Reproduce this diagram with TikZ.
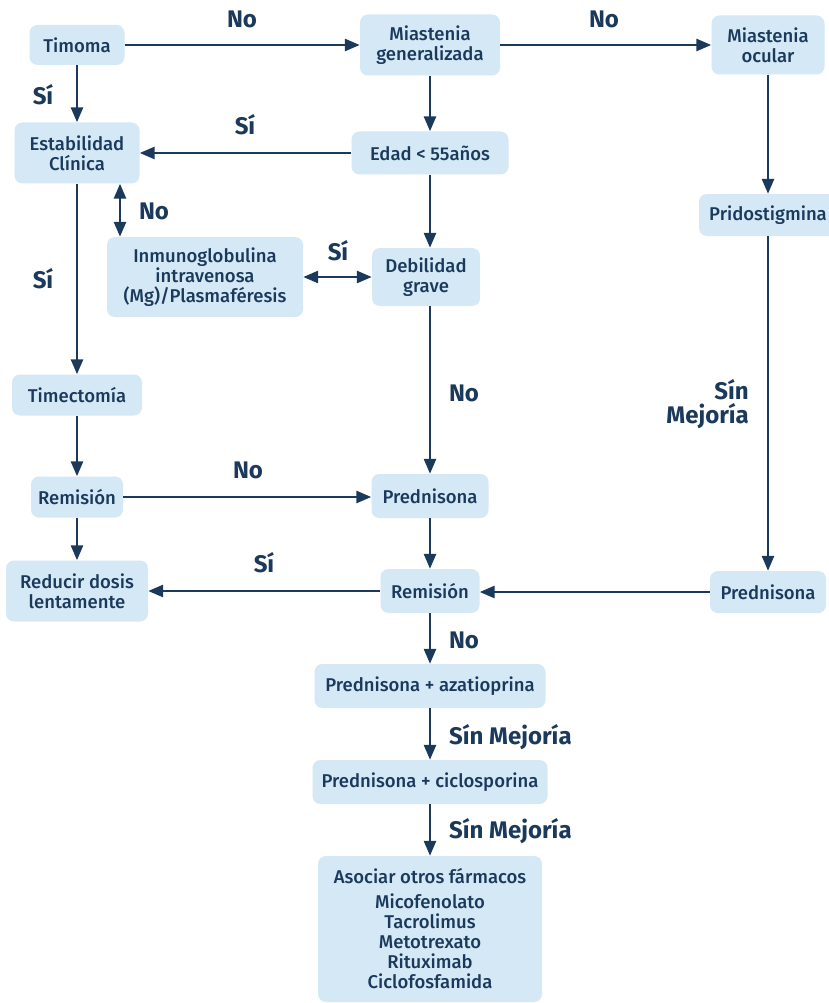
\documentclass[tikz,border=0pt]{standalone}
\usepackage{fontspec}
\setmainfont{Fira Sans}
\newfontfamily\medio{Fira Sans Medium}
\usetikzlibrary{arrows.meta,positioning,calc}
\definecolor{tinta}{HTML}{1B3A5B}
\definecolor{celeste}{HTML}{D4E8F6}

\tikzset{
  caja/.style={fill=celeste, rounded corners=8pt, text=tinta, align=center, inner sep=0pt,
    font=\medio\fontsize{18.5}{20}\selectfont},
  rotulo/.style={text=tinta, inner sep=0pt, font=\fontsize{24}{24}\selectfont\bfseries},
  flecha/.style={draw=tinta, line width=2.7pt, -{Triangle[length=15pt,width=12pt]}},
  dflecha/.style={draw=tinta, line width=2.7pt,
    {Triangle[length=15pt,width=12pt]}-{Triangle[length=15pt,width=12pt]}},
}

\begin{document}
\begin{tikzpicture}[x=1pt,y=-1pt]
  \fill[white] (0,0) rectangle (828,1003);
  \useasboundingbox (0,0) rectangle (828,1003);

  % cajas
  \node[caja, minimum width=95pt, minimum height=40pt] (timoma) at (77,45) {Timoma};
  \node[caja, minimum width=140pt, minimum height=61pt] (miasgen) at (430,45) {Miastenia\\generalizada};
  \node[caja, minimum width=113pt, minimum height=59pt] (miasocu) at (768,45) {Miastenia\\ocular};
  \node[caja, minimum width=125pt, minimum height=61pt] (estab) at (77,153) {Estabilidad\\Clínica};
  \node[caja, minimum width=157pt, minimum height=43pt] (edad) at (430,153) {Edad < 55años};
  \node[caja, minimum width=138pt, minimum height=42pt] (prido) at (768,215) {Pridostigmina};
  \node[caja, minimum width=196pt, minimum height=80pt] (inmuno) at (205,277) {Inmunoglobulina\\intravenosa\\(Mg)/Plasmaféresis};
  \node[caja, minimum width=108pt, minimum height=58pt] (debil) at (426,277) {Debilidad\\grave};
  \node[caja, minimum width=130pt, minimum height=41pt] (timect) at (77,395) {Timectomía};
  \node[caja, minimum width=92pt, minimum height=41pt] (remizq) at (77,497) {Remisión};
  \node[caja, minimum width=142pt, minimum height=61pt] (reducir) at (77,591) {Reducir dosis\\lentamente};
  \node[caja, minimum width=117pt, minimum height=44pt] (predcen) at (430,496) {Prednisona};
  \node[caja, minimum width=99pt, minimum height=44pt] (remcen) at (430,591) {Remisión};
  \node[caja, minimum width=116pt, minimum height=42pt] (predder) at (768,592) {Prednisona};
  \node[caja, minimum width=231pt, minimum height=44pt] (aza) at (430,686) {Prednisona + azatioprina};
  \node[caja, minimum width=235pt, minimum height=44pt] (ciclo) at (430,782) {Prednisona + ciclosporina};
  \node[caja, minimum width=224pt, minimum height=146pt] (asociar) at (430,929)
    {Asociar otros fármacos\\[5pt]Micofenolato\\Tacrolimus\\Metotrexato\\Rituximab\\Ciclofosfamida};

  % rotulos
  \node[rotulo] (no1) at (242,19) {No};
  \node[rotulo] (no2) at (604,19) {No};
  \node[rotulo] (si1) at (43,95) {Sí};
  \node[rotulo] (si2) at (245,125) {Sí};
  \node[rotulo] (no3) at (154,211) {No};
  \node[rotulo] (si3) at (43,279) {Sí};
  \node[rotulo] (si4) at (338,251) {Sí};
  \node[rotulo] (no4) at (464,393) {No};
  \node[rotulo, anchor=east, align=right] (sm1) at (749,404) {Sín\\Mejoría};
  \node[rotulo] (no5) at (248,470) {No};
  \node[rotulo] (si5) at (264,563) {Sí};
  \node[rotulo] (no6) at (464,640) {No};
  \node[rotulo, anchor=west] (sm2) at (449,737) {Sín Mejoría};
  \node[rotulo, anchor=west] (sm3) at (449,831) {Sín Mejoría};

  % conectores
  \coordinate (eje) at (120,0);
  \draw[flecha] (timoma) -- (miasgen);
  \draw[flecha] (miasgen) -- (miasocu);
  \draw[flecha] (timoma) -- (estab);
  \draw[flecha] (miasgen) -- (edad);
  \draw[flecha] (edad) -- (estab);
  \draw[dflecha] (estab.south -| eje) -- (inmuno.north -| eje);
  \draw[dflecha] (inmuno) -- (inmuno -| debil.west);
  \draw[flecha] (edad) -- (edad |- debil.north);
  \draw[flecha] (estab) -- (timect);
  \draw[flecha] (debil.south -| predcen) -- (predcen);
  \draw[flecha] (timect) -- (remizq);
  \draw[flecha] (remizq) -- (remizq -| predcen.west);
  \draw[flecha] (remizq) -- (reducir);
  \draw[flecha] (predcen) -- (remcen);
  \draw[flecha] (remcen) -- (remcen -| reducir.east);
  \draw[flecha] (predder) -- (predder -| remcen.east);
  \draw[flecha] (miasocu) -- (prido);
  \draw[flecha] (prido) -- (predder);
  \draw[flecha] (remcen) -- (aza);
  \draw[flecha] (aza) -- (ciclo);
  \draw[flecha] (ciclo) -- (asociar);
\end{tikzpicture}
\end{document}
